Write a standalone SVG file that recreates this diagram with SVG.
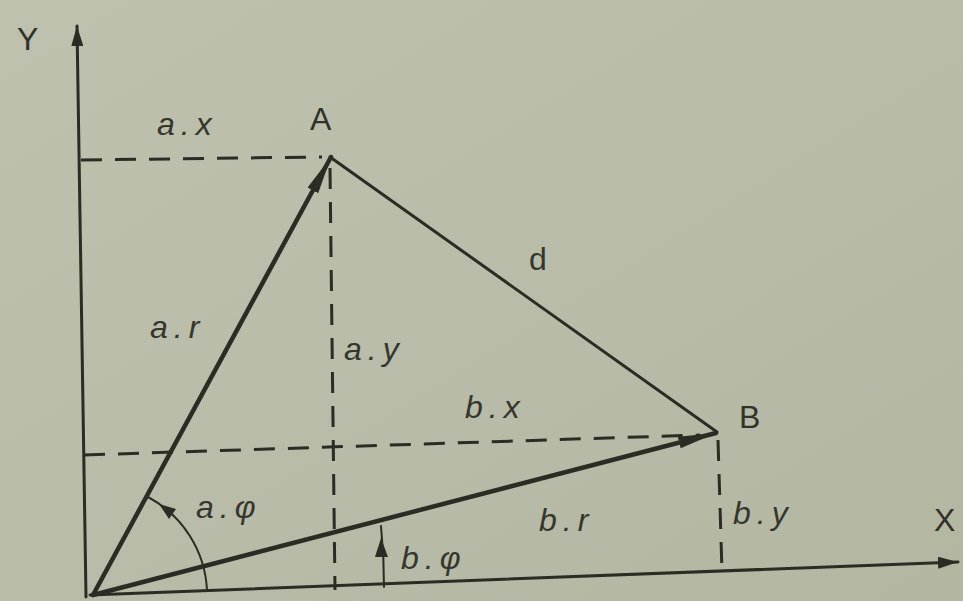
<svg xmlns="http://www.w3.org/2000/svg" width="963" height="601" viewBox="0 0 963 601">
<style>
.line{stroke:#2b2d25;fill:none;stroke-linecap:round}
.vec{stroke-width:4.5}
.ax{stroke-width:3}
.dash{stroke-width:3;stroke-dasharray:21 13;stroke-linecap:butt}
.thin{stroke-width:2}
.lbl{font-family:"Liberation Sans",Arial,sans-serif;font-size:32px;fill:#35372e;font-style:italic;letter-spacing:6px}
.pt{font-family:"Liberation Sans",Arial,sans-serif;font-size:32px;fill:#31332a}
</style>
<defs>
<linearGradient id="bg" x1="0" y1="0" x2="1" y2="1">
<stop offset="0" stop-color="#bdc1ae"/>
<stop offset="1" stop-color="#b3b7a2"/>
</linearGradient>
<marker id="arr" markerUnits="userSpaceOnUse" markerWidth="40" markerHeight="14" refX="38" refY="7" orient="auto">
<path d="M0,1 L38,7 L0,13 z" fill="#2b2d25"/>
</marker>
<marker id="axarr" markerUnits="userSpaceOnUse" markerWidth="22" markerHeight="12" refX="20" refY="6" orient="auto">
<path d="M0,0 L20,6 L0,12 z" fill="#2b2d25"/>
</marker>
</defs>
<rect width="963" height="601" fill="url(#bg)"/>

<g id="axes">
<line class="line ax" x1="86" y1="597" x2="77" y2="26" marker-end="url(#axarr)"/>
<line class="line ax" x1="90" y1="595" x2="958" y2="562" marker-end="url(#axarr)"/>
<text class="pt" x="17" y="50">Y</text>
<text class="pt" x="934" y="531">X</text>
</g>

<g id="connectors">
<line class="line dash" x1="81" y1="160" x2="322" y2="157"/>
<line class="line dash" x1="330" y1="168" x2="335" y2="590"/>
<line class="line dash" x1="84" y1="455" x2="700" y2="435"/>
<line class="line dash" x1="718" y1="440" x2="722" y2="572"/>
<line class="line" style="stroke-width:3" x1="330" y1="157" x2="717" y2="432"/>
<line class="line vec" x1="93" y1="595" x2="331" y2="157" marker-end="url(#arr)"/>
<line class="line vec" x1="93" y1="595" x2="716" y2="433" marker-end="url(#arr)"/>
<path class="line thin" d="M207,590 A112,112 0 0 0 148,497"/>
<polygon points="159,504 176,509 169,519" fill="#2b2d25"/>
<path class="line thin" d="M384,587 A600,600 0 0 0 381,526"/>
<polygon points="381,538 375,557 388,557" fill="#2b2d25"/>
</g>

<g id="node-A">
<text class="pt" x="310" y="130">A</text>
</g>
<g id="node-B">
<text class="pt" x="739" y="428">B</text>
</g>

<g id="labels">
<text class="lbl" x="157" y="135">a.x</text>
<text class="lbl" x="529" y="270" style="font-style:normal">d</text>
<text class="lbl" x="150" y="338">a.r</text>
<text class="lbl" x="344" y="360">a.y</text>
<text class="lbl" x="465" y="418">b.x</text>
<text class="lbl" x="196" y="518">a.φ</text>
<text class="lbl" x="539" y="531">b.r</text>
<text class="lbl" x="733" y="524">b.y</text>
<text class="lbl" x="401" y="569">b.φ</text>
</g>
</svg>
